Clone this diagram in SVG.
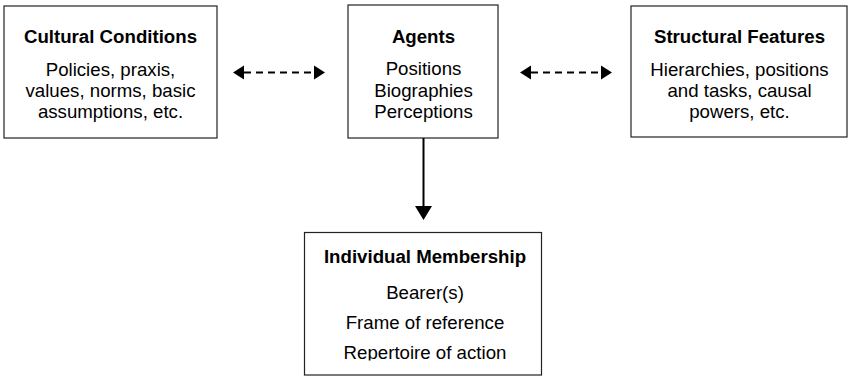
<svg xmlns="http://www.w3.org/2000/svg" width="848" height="377" viewBox="0 0 848 377">
<style>
.box{fill:#fff;stroke:#222;stroke-width:1.2}
text{font-family:"Liberation Sans",Arial,sans-serif;font-size:18.67px;fill:#000;text-anchor:middle}
.t{font-weight:bold}
.dash{stroke:#000;stroke-width:2.2;fill:none;stroke-dasharray:7 5}
.solid{stroke:#000;stroke-width:2;fill:none}
.head{fill:#000}
</style>
<defs>
<clipPath id="clipB"><rect x="300" y="230" width="250" height="130.5"/></clipPath>
</defs>
<rect width="848" height="377" fill="#fff"/>
<g id="cultural">
<rect class="box" x="4" y="6" width="213" height="132"/>
<text class="t" x="110.5" y="43">Cultural Conditions</text>
<text x="110.5" y="76">Policies, praxis,</text>
<text x="110.5" y="97">values, norms, basic</text>
<text x="110.5" y="118">assumptions, etc.</text>
</g>
<g id="agents">
<rect class="box" x="348" y="5" width="150" height="133"/>
<text class="t" x="423.5" y="43">Agents</text>
<text x="423.5" y="75">Positions</text>
<text x="423.5" y="96.5">Biographies</text>
<text x="423.5" y="118">Perceptions</text>
</g>
<g id="structural">
<rect class="box" x="631" y="6" width="216" height="131"/>
<text class="t" x="739.5" y="43">Structural Features</text>
<text x="739.5" y="76">Hierarchies, positions</text>
<text x="739.5" y="97">and tasks, causal</text>
<text x="739.5" y="118">powers, etc.</text>
</g>
<g id="membership">
<rect class="box" x="304.5" y="232.5" width="237" height="142.5"/>
<g clip-path="url(#clipB)">
<text class="t" x="425" y="263">Individual Membership</text>
<text x="425" y="299">Bearer(s)</text>
<text x="425" y="329">Frame of reference</text>
<text x="425" y="359">Repertoire of action</text>
</g>
</g>
<g id="connectors">
<line class="dash" x1="244" y1="72.5" x2="314" y2="72.5"/>
<polygon class="head" points="233,72.5 244,65.5 244,79.5"/>
<polygon class="head" points="325,72.5 314,65.5 314,79.5"/>
<line class="dash" x1="531" y1="72.5" x2="601" y2="72.5"/>
<polygon class="head" points="520,72.5 531,65.5 531,79.5"/>
<polygon class="head" points="612,72.5 601,65.5 601,79.5"/>
<line class="solid" x1="423.5" y1="138" x2="423.5" y2="208"/>
<polygon class="head" points="415,206 432,206 423.5,220"/>
</g>
</svg>
